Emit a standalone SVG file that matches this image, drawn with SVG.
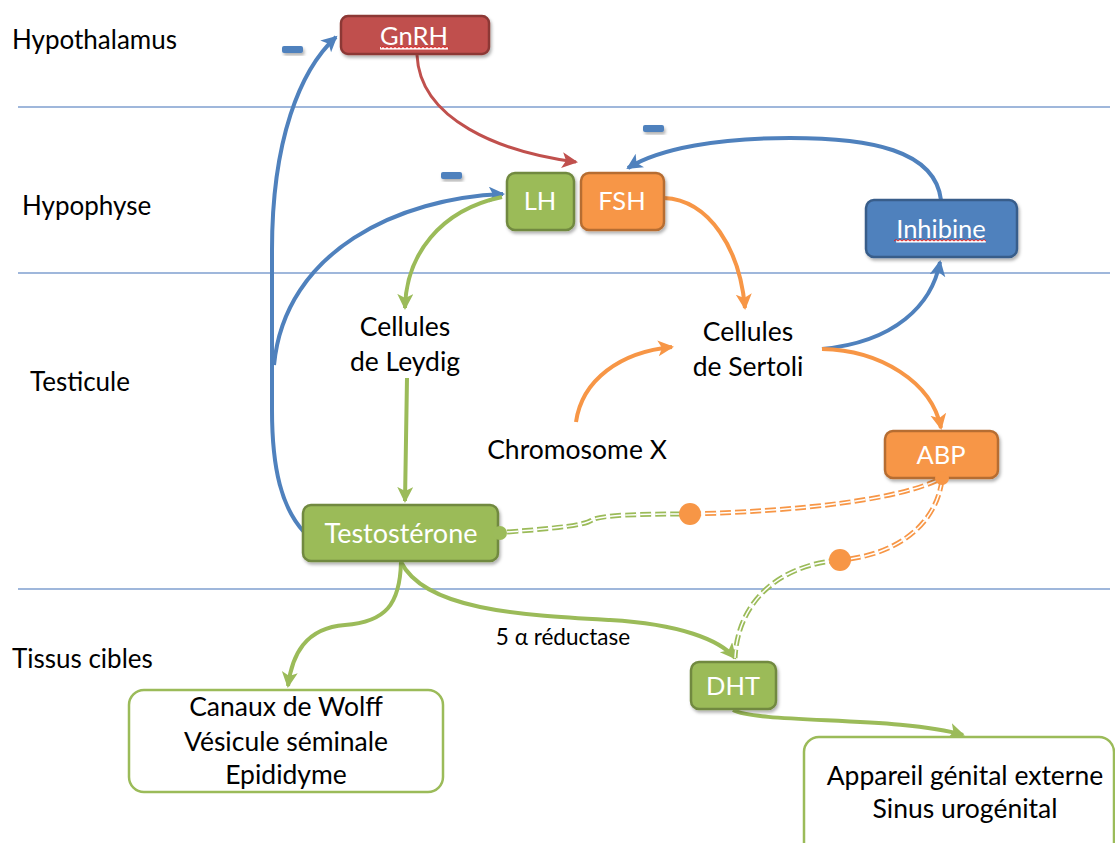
<svg xmlns="http://www.w3.org/2000/svg" width="1115" height="843" viewBox="0 0 1115 843">
<style>
.lbl{font-family:Lato,"Open Sans",sans-serif;font-size:26.5px;fill:#000}
.sec{font-family:Lato,"Open Sans",sans-serif;font-size:26px;fill:#000}
.wt{font-family:Lato,"Open Sans",sans-serif;font-size:25.5px;fill:#fff;text-anchor:middle}
.c{text-anchor:middle}
.band{stroke:#7F9FCF;stroke-width:1.3}
.blue{fill:none;stroke:#4F81BD;stroke-width:4}
.red{fill:none;stroke:#C0504D;stroke-width:3}
.org{fill:none;stroke:#F79646;stroke-width:4}
.grn{fill:none;stroke:#9BBB59;stroke-width:4}
.dg{fill:none;stroke:#9BBB59;stroke-width:5;stroke-dasharray:11 4}
.do{fill:none;stroke:#F79646;stroke-width:5;stroke-dasharray:11 4}
.dw{fill:none;stroke:#fff;stroke-width:1.5;stroke-dasharray:11 4}
.minus{fill:#4F81BD;filter:url(#sh)}
.squig{fill:none;stroke:#E02020;stroke-width:1}
</style>
<defs>
<filter id="sh" x="-20%" y="-20%" width="150%" height="160%"><feDropShadow dx="1.5" dy="2.5" stdDeviation="1.5" flood-color="#000" flood-opacity="0.3"/></filter>
<marker id="ab" markerUnits="userSpaceOnUse" markerWidth="20" markerHeight="20" refX="14" refY="8" orient="auto"><path d="M0,0 L16,8 L0,16 L4,8 Z" fill="#4F81BD"/></marker>
<marker id="ar" markerUnits="userSpaceOnUse" markerWidth="20" markerHeight="20" refX="14" refY="8" orient="auto"><path d="M0,0 L16,8 L0,16 L4,8 Z" fill="#C0504D"/></marker>
<marker id="ao" markerUnits="userSpaceOnUse" markerWidth="20" markerHeight="20" refX="14" refY="8" orient="auto"><path d="M0,0 L16,8 L0,16 L4,8 Z" fill="#F79646"/></marker>
<marker id="ag" markerUnits="userSpaceOnUse" markerWidth="20" markerHeight="20" refX="14" refY="8" orient="auto"><path d="M0,0 L16,8 L0,16 L4,8 Z" fill="#9BBB59"/></marker>
</defs>
<rect width="1115" height="843" fill="#fff"/>
<g id="bands">
<line class="band" x1="18" y1="107" x2="1110" y2="107"/>
<line class="band" x1="18" y1="273" x2="1110" y2="273"/>
<line class="band" x1="18" y1="589" x2="1110" y2="589"/>
<text class="sec" x="12" y="49">Hypothalamus</text>
<text class="sec" x="22" y="215">Hypophyse</text>
<text class="sec" x="30" y="391">Testicule</text>
<text class="sec" x="12" y="668">Tissus cibles</text>
</g>
<g id="connectors">
<path class="red" d="M417,55 C420,120 500,152 576,162" marker-end="url(#ar)"/>
<path class="blue" d="M304,532 C282,508 272,470 272,410 L272,250 C272,140 300,70 336,37" marker-end="url(#ab)"/>
<path class="blue" d="M274,365 C285,250 400,198 503,194" marker-end="url(#ab)"/>
<path class="blue" d="M941,200 C935,150 870,138 790,138 C720,138 660,148 628,168" marker-end="url(#ab)"/>
<path class="blue" d="M822,349 C895,342 932,305 940,262" marker-end="url(#ab)"/>
<path class="org" d="M822,349 C880,350 932,382 941,428" marker-end="url(#ao)"/>
<path class="org" d="M664,198 C710,200 740,250 745,308" marker-end="url(#ao)"/>
<path class="grn" d="M502,197 C440,210 406,255 405,308" marker-end="url(#ag)"/>
<path class="grn" d="M407,378 L406,440 L405,501" marker-end="url(#ag)"/>
<path class="org" d="M576,422 C582,380 620,352 672,347" marker-end="url(#ao)"/>
<path class="grn" d="M401,562 C400,605 385,622 345,625 C305,628 292,655 288,686" marker-end="url(#ag)"/>
<path class="grn" d="M401,562 C425,610 520,615 610,620 C680,624 720,640 735,658" marker-end="url(#ag)"/>
<path class="grn" d="M733,710 C760,724 900,716 963,735" marker-end="url(#ag)"/>
<text class="lbl c" x="563" y="645" style="font-size:22.5px">5 α réductase</text>
<path class="dg" d="M507,532 C560,528 585,525 592,520 C600,515 640,514 690,514"/>
<path class="dw" d="M507,532 C560,528 585,525 592,520 C600,515 640,514 690,514"/>
<path class="do" d="M690,514 C800,511 900,500 942,478"/>
<path class="dw" d="M690,514 C800,511 900,500 942,478"/>
<path class="do" d="M942,480 C935,530 890,556 840,560"/>
<path class="dw" d="M942,480 C935,530 890,556 840,560"/>
<path class="dg" d="M840,560 C780,565 738,600 735,658"/>
<path class="dw" d="M840,560 C780,565 738,600 735,658"/>
<circle cx="690" cy="514" r="11" fill="#F79646"/>
<circle cx="840" cy="560" r="11" fill="#F79646"/>
</g>
<g id="minus">
<rect class="minus" x="282" y="46" width="21" height="7" rx="2"/>
<rect class="minus" x="441" y="172" width="21" height="7" rx="2"/>
<rect class="minus" x="643" y="125" width="21" height="7" rx="2"/>
</g>
<g id="gnrh">
<rect x="341" y="16" width="148" height="38" rx="7" fill="#C0504D" stroke="#8C3836" stroke-width="2.5" filter="url(#sh)"/>
<text class="wt" x="414" y="45" text-decoration="underline">GnRH</text>
<path class="squig" d="M381,48 l2,-1.5 l2,1.5 l2,-1.5 l2,1.5 l2,-1.5 l2,1.5 l2,-1.5 l2,1.5 l2,-1.5 l2,1.5 l2,-1.5 l2,1.5 l2,-1.5 l2,1.5 l2,-1.5 l2,1.5 l2,-1.5 l2,1.5 l2,-1.5 l2,1.5 l2,-1.5 l2,1.5 l2,-1.5 l2,1.5 l2,-1.5 l2,1.5 l2,-1.5 l2,1.5 l2,-1.5 l2,1.5 l2,-1.5 l2,1.5 l2,-1.5 l2,1.5"/>
</g>
<g id="lh">
<rect x="507" y="173" width="67" height="57" rx="8" fill="#9BBB59" stroke="#71893F" stroke-width="2.5" filter="url(#sh)"/>
<text class="wt" x="540" y="210">LH</text>
</g>
<g id="fsh">
<rect x="581" y="173" width="83" height="57" rx="8" fill="#F79646" stroke="#B66D31" stroke-width="2.5" filter="url(#sh)"/>
<text class="wt" x="622" y="210">FSH</text>
</g>
<g id="inhibine">
<rect x="866" y="200" width="151" height="57" rx="8" fill="#4F81BD" stroke="#385D8A" stroke-width="2.5" filter="url(#sh)"/>
<text class="wt" x="941" y="238" text-decoration="underline">Inhibine</text>
<path class="squig" d="M894,241 l2,-1.5 l2,1.5 l2,-1.5 l2,1.5 l2,-1.5 l2,1.5 l2,-1.5 l2,1.5 l2,-1.5 l2,1.5 l2,-1.5 l2,1.5 l2,-1.5 l2,1.5 l2,-1.5 l2,1.5 l2,-1.5 l2,1.5 l2,-1.5 l2,1.5 l2,-1.5 l2,1.5 l2,-1.5 l2,1.5 l2,-1.5 l2,1.5 l2,-1.5 l2,1.5 l2,-1.5 l2,1.5 l2,-1.5 l2,1.5 l2,-1.5 l2,1.5 l2,-1.5 l2,1.5 l2,-1.5 l2,1.5 l2,-1.5 l2,1.5 l2,-1.5 l2,1.5 l2,-1.5 l2,1.5 l2,-1.5 l2,1.5"/>
</g>
<g id="leydig">
<text class="lbl c" x="405" y="336">Cellules</text>
<text class="lbl c" x="405" y="371">de Leydig</text>
</g>
<g id="sertoli">
<text class="lbl c" x="748" y="341">Cellules</text>
<text class="lbl c" x="748" y="376">de Sertoli</text>
</g>
<g id="chromx">
<text class="lbl c" x="577" y="459">Chromosome X</text>
</g>
<g id="abp">
<rect x="885" y="431" width="113" height="47" rx="8" fill="#F79646" stroke="#B66D31" stroke-width="2.5" filter="url(#sh)"/>
<text class="wt" x="941" y="464">ABP</text>
<circle cx="942" cy="478" r="7" fill="#F79646"/>
</g>
<g id="testosterone">
<rect x="303" y="505" width="195" height="56" rx="8" fill="#9BBB59" stroke="#71893F" stroke-width="2.5" filter="url(#sh)"/>
<text class="wt" x="401" y="543" style="font-size:27px">Testostérone</text>
<circle cx="500" cy="533" r="7" fill="#9BBB59"/>
</g>
<g id="dht">
<rect x="691" y="662" width="85" height="47" rx="8" fill="#9BBB59" stroke="#71893F" stroke-width="2.5" filter="url(#sh)"/>
<text class="wt" x="733" y="695">DHT</text>
</g>
<g id="canaux">
<rect x="129" y="690" width="314" height="102" rx="15" fill="#fff" stroke="#9BBB59" stroke-width="2.5"/>
<text class="lbl c" x="286" y="716">Canaux de Wolff</text>
<text class="lbl c" x="286" y="751">Vésicule séminale</text>
<text class="lbl c" x="286" y="784">Epididyme</text>
</g>
<g id="appareil">
<rect x="804" y="737" width="310" height="130" rx="15" fill="#fff" stroke="#9BBB59" stroke-width="2.5"/>
<text class="lbl c" x="965" y="785">Appareil génital externe</text>
<text class="lbl c" x="965" y="818">Sinus urogénital</text>
</g>
</svg>
